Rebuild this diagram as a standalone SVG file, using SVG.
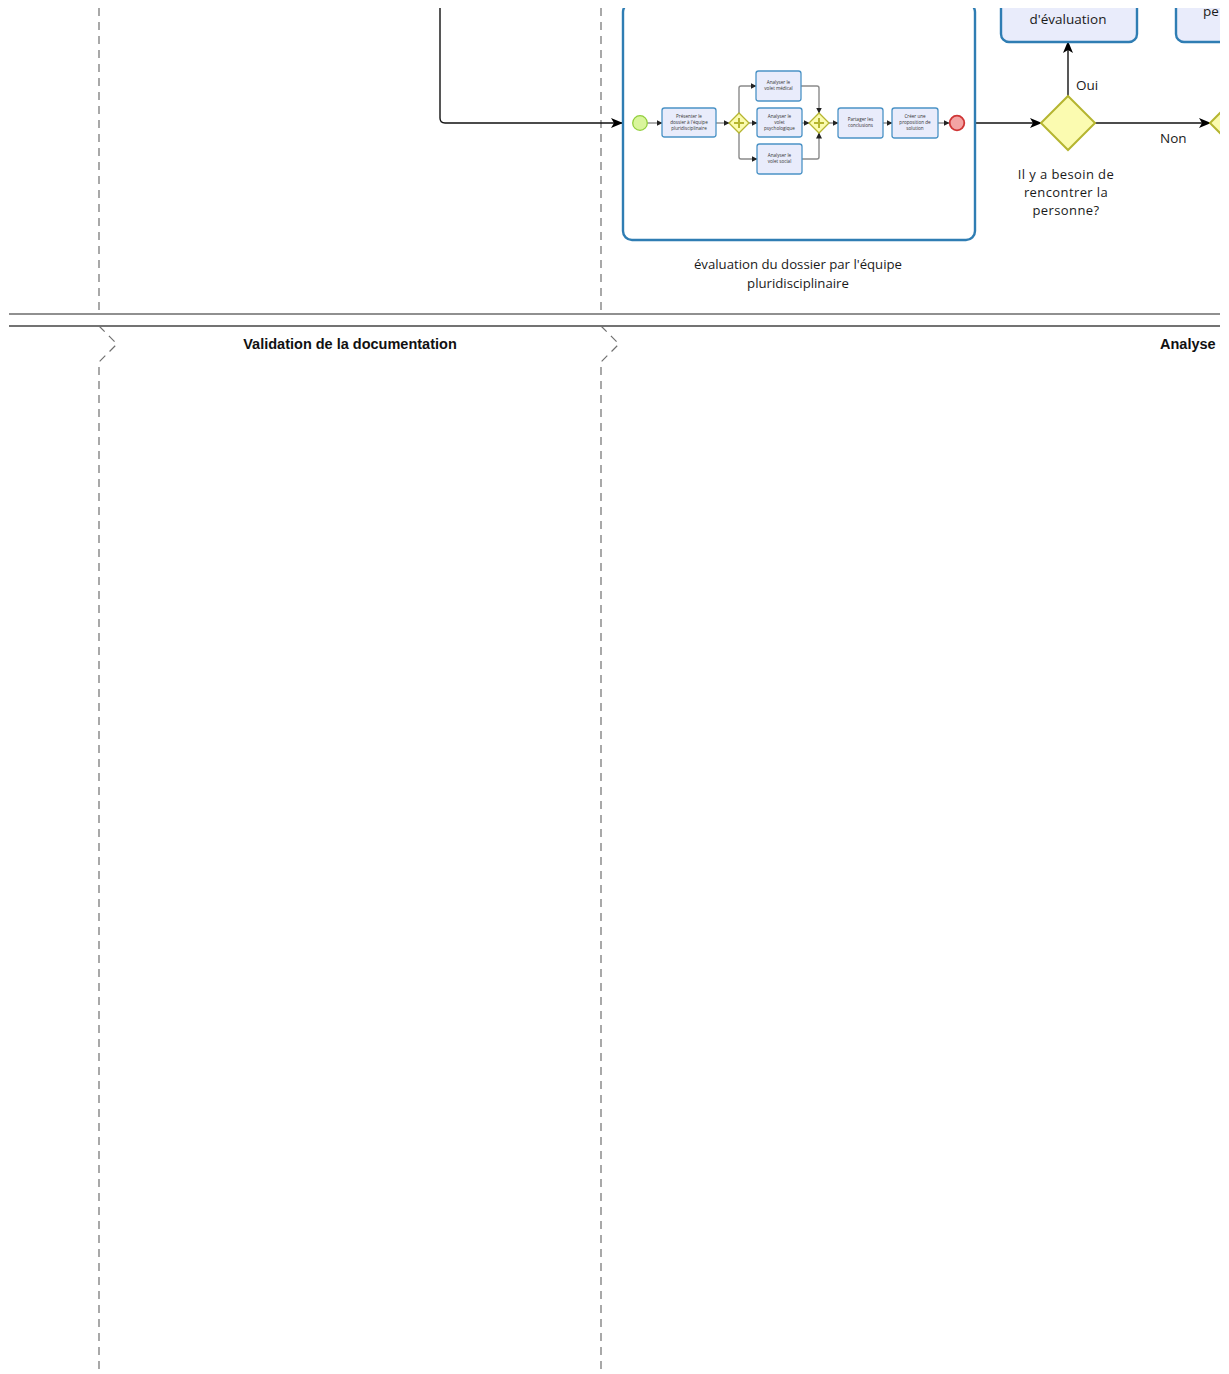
<svg xmlns="http://www.w3.org/2000/svg" width="1229" height="1374" viewBox="0 0 1229 1374">
<style>
.lane{stroke:#6b6b6b;stroke-width:1.3;fill:none}
.dash{stroke:#707070;stroke-width:1.2;fill:none;stroke-dasharray:8,6}
.conn{stroke:#111;stroke-width:1.4;fill:none}
.iconn{stroke:#8a8a8a;stroke-width:1.4;fill:none}
.task{fill:#e9ecfb;stroke:#2f7db3;stroke-width:2.4}
.itask{fill:#e9ecfb;stroke:#4b93c6;stroke-width:1.3}
.gw{fill:#fbfbb0;stroke:#b5b530;stroke-width:2}
.t{font-family:"Open Sans","DejaVu Sans",sans-serif;fill:#1a1a1a}
.tiny{font-family:"Open Sans","DejaVu Sans",sans-serif;font-size:4.6px;fill:#333;text-anchor:middle}
.hdr{font-family:"Liberation Sans",Arial,sans-serif;font-weight:bold;font-size:14.5px;fill:#111}
</style>
<defs>
<marker id="arr" viewBox="0 0 12 10" refX="11" refY="5" markerWidth="12" markerHeight="10" markerUnits="userSpaceOnUse" orient="auto">
<path d="M0,0 L12,5 L0,10 L3,5 z" fill="#000"/>
</marker>
<marker id="iarr" viewBox="0 0 6 6" refX="5.5" refY="3" markerWidth="6" markerHeight="6" markerUnits="userSpaceOnUse" orient="auto">
<path d="M0,0 L6,3 L0,6 z" fill="#222"/>
</marker>
<clipPath id="clip"><rect x="0" y="8" width="1220" height="1366"/></clipPath>
</defs>
<rect width="1229" height="1374" fill="#fff"/>
<g clip-path="url(#clip)">
<g id="lanes">
<line class="lane" x1="9" y1="314" x2="1220" y2="314"/>
<line class="lane" x1="9" y1="326" x2="1220" y2="326" style="stroke:#444"/>
<path class="dash" d="M99,8 V314"/>
<path class="dash" d="M601,8 V314"/>
<path class="dash" d="M99,326 L117,344 L99,362 V1374"/>
<path class="dash" d="M601,326 L619,344 L601,362 V1374"/>
<text class="hdr" x="350" y="349" text-anchor="middle">Validation de la documentation</text>
<text class="hdr" x="1160" y="349">Analyse d</text>
</g>
<g id="connectors">
<path class="conn" d="M440,8 V118 Q440,123 445,123 H622" marker-end="url(#arr)"/>
<path class="conn" d="M975,123 H1041" marker-end="url(#arr)"/>
<path class="conn" d="M1068,96 V42" marker-end="url(#arr)"/>
<path class="conn" d="M1095,123 H1210" marker-end="url(#arr)"/>
<text class="t" x="1076" y="90" font-size="13.5">Oui</text>
<text class="t" x="1160" y="143" font-size="13.5">Non</text>
</g>
<g id="subprocess">
<rect x="623" y="3" width="352" height="237" rx="9" fill="#fff" stroke="#2f7db3" stroke-width="2.4"/>
<text class="t" x="798" y="269" font-size="13.2" text-anchor="middle">évaluation du dossier par l'équipe</text>
<text class="t" x="798" y="288" font-size="13.2" text-anchor="middle">pluridisciplinaire</text>
<g id="inner-connectors">
<path class="iconn" d="M647,123 H662" marker-end="url(#iarr)"/>
<path class="iconn" d="M716,123 H729" marker-end="url(#iarr)"/>
<path class="iconn" d="M739,113 V88 Q739,86 741,86 H756" marker-end="url(#iarr)"/>
<path class="iconn" d="M749,123 H757" marker-end="url(#iarr)"/>
<path class="iconn" d="M739,133 V157 Q739,159 741,159 H757" marker-end="url(#iarr)"/>
<path class="iconn" d="M801,86 H817 Q819,86 819,88 V113" marker-end="url(#iarr)"/>
<path class="iconn" d="M802,123 H809" marker-end="url(#iarr)"/>
<path class="iconn" d="M802,159 H817 Q819,159 819,157 V133" marker-end="url(#iarr)"/>
<path class="iconn" d="M829,123 H838" marker-end="url(#iarr)"/>
<path class="iconn" d="M883,123 H892" marker-end="url(#iarr)"/>
<path class="iconn" d="M938,123 H949" marker-end="url(#iarr)"/>
</g>
<g id="start"><circle cx="640" cy="123" r="7.3" fill="#d9f59c" stroke="#92cf3d" stroke-width="1.3"/></g>
<g id="t-presenter"><rect class="itask" x="662" y="108" width="54" height="29" rx="2.5"/>
<text class="tiny" x="689" y="118">Présenter le</text><text class="tiny" x="689" y="124">dossier à l'équipe</text><text class="tiny" x="689" y="130">pluridisciplinaire</text></g>
<g id="gw1"><path d="M739,113 L749,123 L739,133 L729,123 Z" fill="#fbfbb0" stroke="#b5b530" stroke-width="1.3"/><path d="M739,118 V128 M734,123 H744" stroke="#b5b530" stroke-width="2"/></g>
<g id="t-medical"><rect class="itask" x="756" y="71" width="45" height="30" rx="2.5"/>
<text class="tiny" x="778.5" y="84">Analyser le</text><text class="tiny" x="778.5" y="90">volet médical</text></g>
<g id="t-psycho"><rect class="itask" x="757" y="108" width="45" height="29" rx="2.5"/>
<text class="tiny" x="779.5" y="118">Analyser le</text><text class="tiny" x="779.5" y="124">volet</text><text class="tiny" x="779.5" y="130">psychologique</text></g>
<g id="t-social"><rect class="itask" x="757" y="144" width="45" height="30" rx="2.5"/>
<text class="tiny" x="779.5" y="157">Analyser le</text><text class="tiny" x="779.5" y="163">volet social</text></g>
<g id="gw2"><path d="M819,113 L829,123 L819,133 L809,123 Z" fill="#fbfbb0" stroke="#b5b530" stroke-width="1.3"/><path d="M819,118 V128 M814,123 H824" stroke="#b5b530" stroke-width="2"/></g>
<g id="t-partager"><rect class="itask" x="838" y="108" width="45" height="30" rx="2.5"/>
<text class="tiny" x="860.5" y="121">Partager les</text><text class="tiny" x="860.5" y="127">conclusions</text></g>
<g id="t-creer"><rect class="itask" x="892" y="108" width="46" height="30" rx="2.5"/>
<text class="tiny" x="915" y="118">Créer une</text><text class="tiny" x="915" y="124">proposition de</text><text class="tiny" x="915" y="130">solution</text></g>
<g id="end"><circle cx="957" cy="123" r="7.3" fill="#f3a3a3" stroke="#cf3535" stroke-width="1.8"/></g>
</g>
<g id="gw-besoin">
<path class="gw" d="M1068,96 L1095,123 L1068,150 L1041,123 Z"/>
<text class="t" x="1066" y="179" font-size="13" letter-spacing="0.4" text-anchor="middle">Il y a besoin de</text>
<text class="t" x="1066" y="197" font-size="13" letter-spacing="0.4" text-anchor="middle">rencontrer la</text>
<text class="t" x="1066" y="215" font-size="13" letter-spacing="0.4" text-anchor="middle">personne?</text>
</g>
<g id="task-evaluation">
<rect class="task" x="1001" y="-20" width="136" height="62" rx="8"/>
<text class="t" x="1068" y="24" font-size="13.5" text-anchor="middle">d'évaluation</text>
</g>
<g id="task-right">
<rect class="task" x="1176" y="-20" width="80" height="62" rx="8"/>
<text class="t" x="1203" y="16" font-size="13.5">pe</text>
</g>
<g id="gw-right">
<path class="gw" d="M1237,96 L1264,123 L1237,150 L1210,123 Z"/>
</g>
</g>
</svg>
